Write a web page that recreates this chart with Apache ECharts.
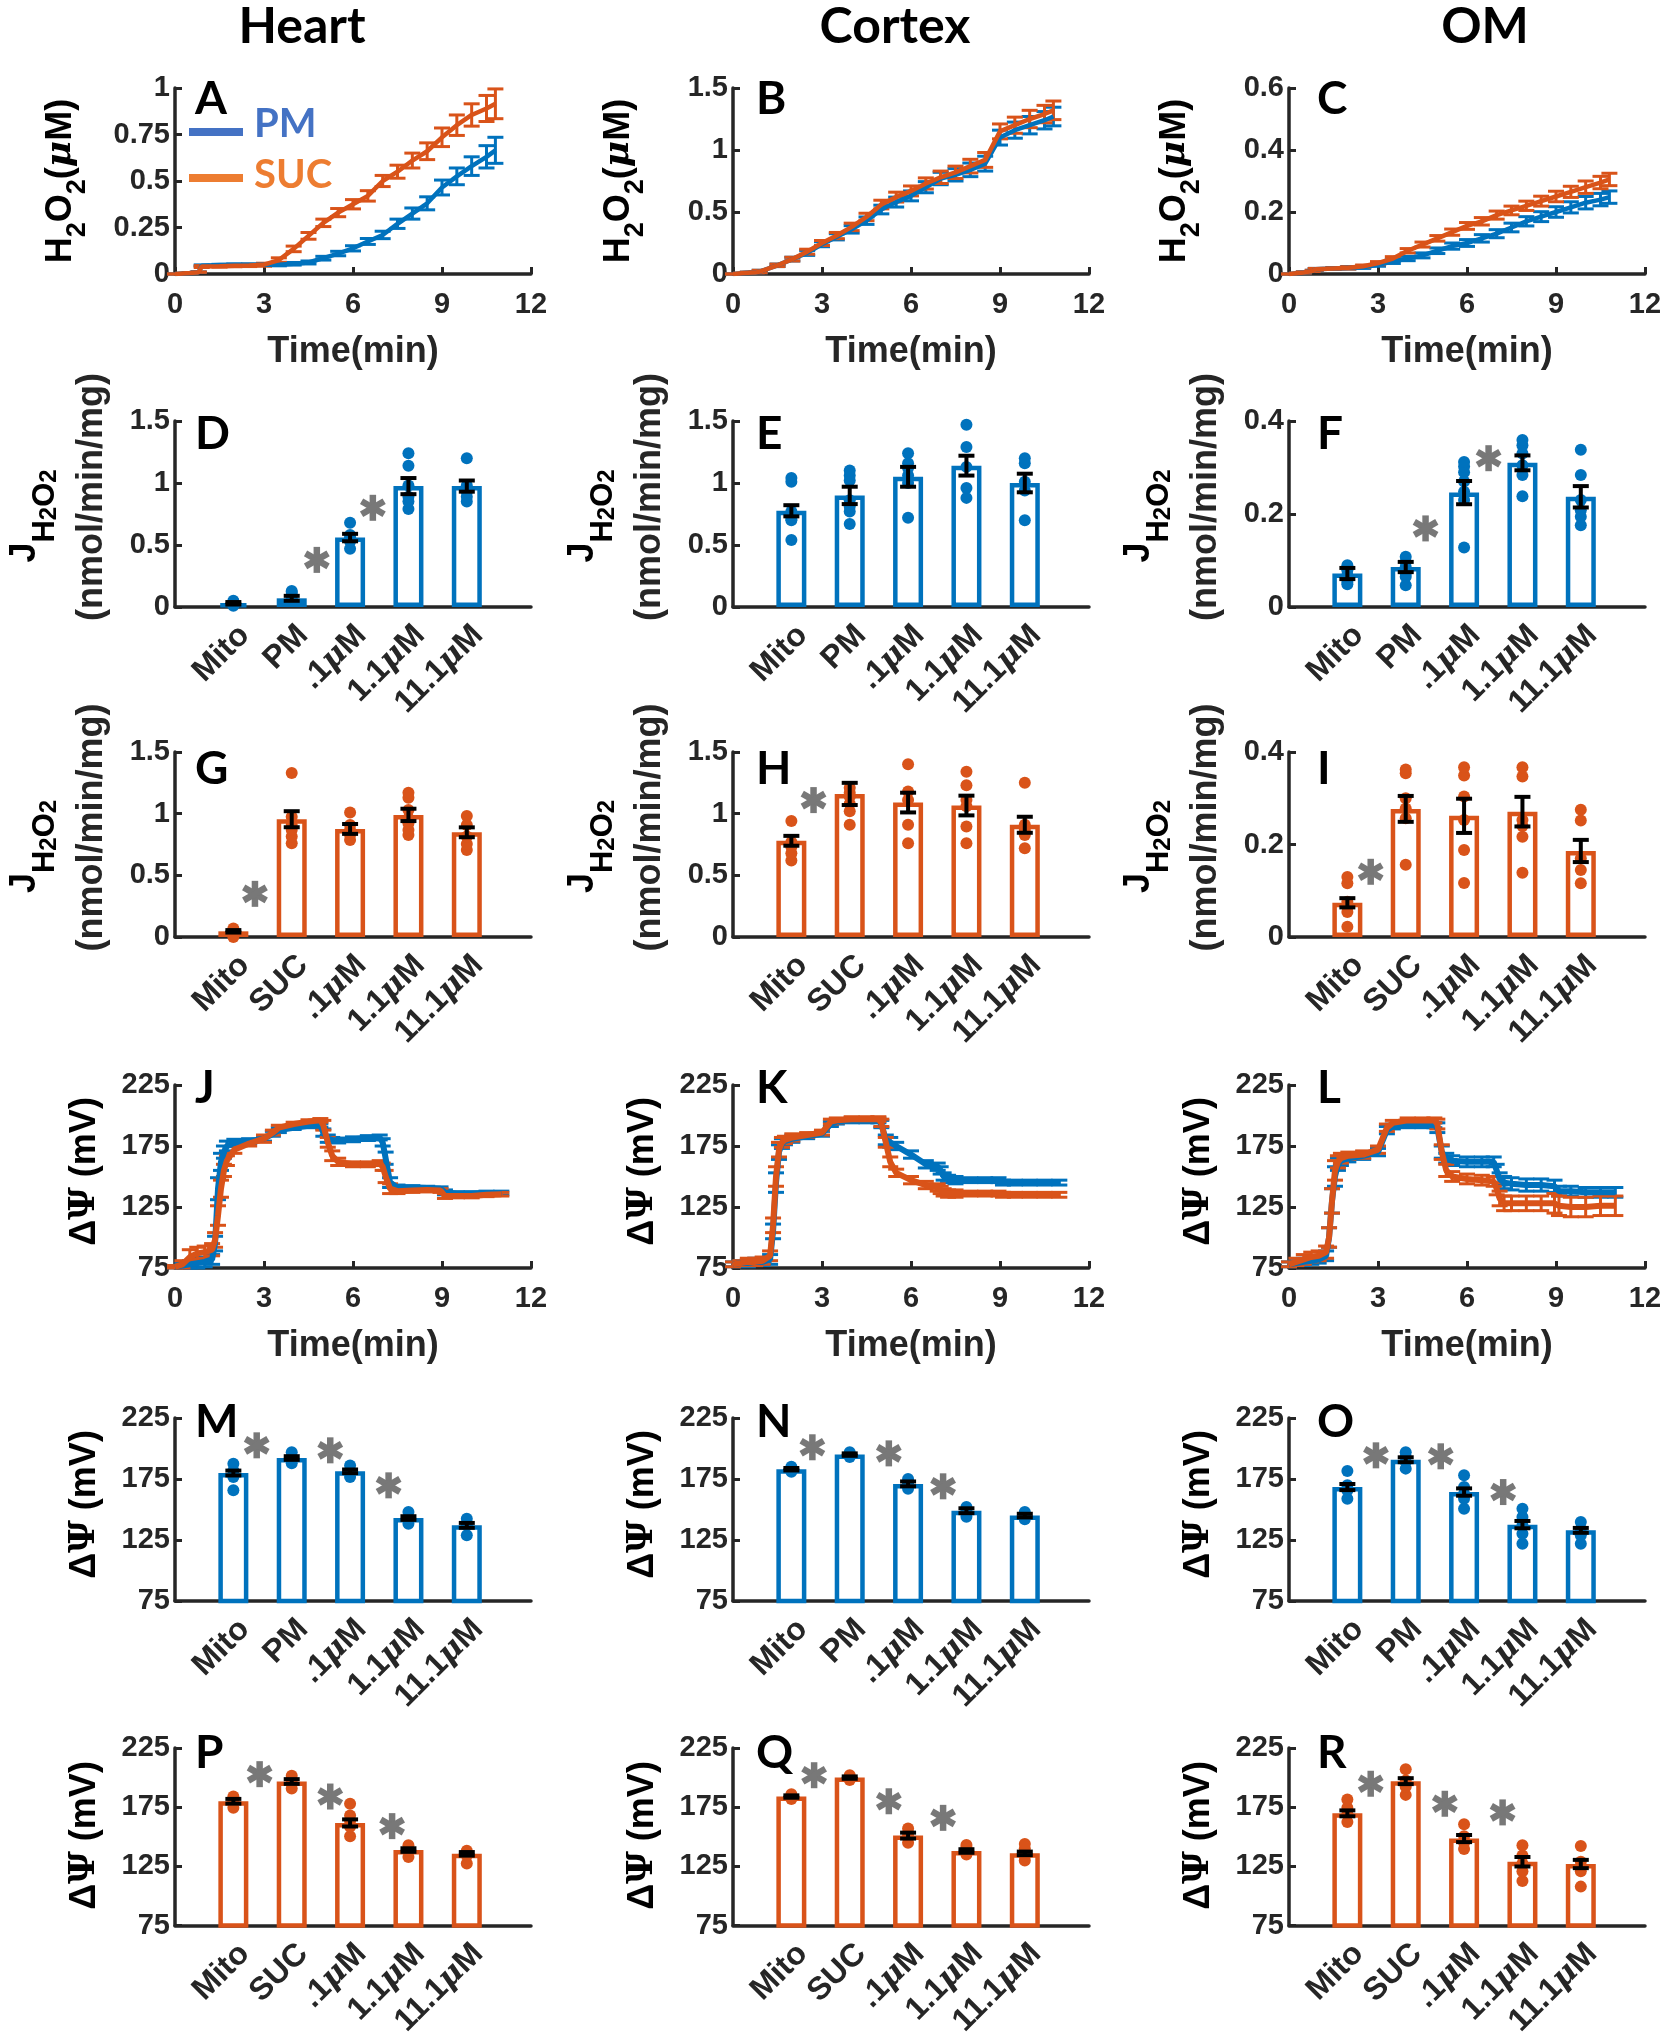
<!DOCTYPE html>
<html><head><meta charset="utf-8">
<script src="https://cdn.jsdelivr.net/npm/echarts@6/dist/echarts.min.js"></script>
<style>html,body{margin:0;padding:0;background:#fff}#c{width:1666px;height:2040px}</style>
</head><body><div id="c"></div>
<script>
// ---------------- DATA ----------------
const CATS_PM  = ['Mito','PM','.1μM','1.1μM','11.1μM'];
const CATS_SUC = ['Mito','SUC','.1μM','1.1μM','11.1μM'];

// H2O2 time courses (min)
const T_H2O2 = [0,0.5,0.8,0.9,1.5,2,2.5,3,3.5,4,4.5,5,5.5,6,6.5,7,7.5,8,8.5,9,9.5,10,10.5,10.8];
const A_pm      = [0,0.005,0.01,0.045,0.048,0.05,0.05,0.05,0.05,0.055,0.062,0.085,0.11,0.138,0.175,0.21,0.27,0.325,0.38,0.465,0.525,0.58,0.63,0.665];
const A_pm_err  = [0,0,0,0.004,0.004,0.004,0.004,0.005,0.006,0.007,0.008,0.01,0.012,0.014,0.016,0.02,0.025,0.03,0.035,0.04,0.045,0.05,0.06,0.07];
const A_suc     = [0,0.005,0.01,0.04,0.042,0.044,0.046,0.05,0.075,0.135,0.205,0.275,0.33,0.375,0.42,0.5,0.55,0.61,0.66,0.735,0.8,0.855,0.89,0.915];
const A_suc_err = [0,0,0,0.005,0.005,0.005,0.006,0.008,0.012,0.015,0.018,0.02,0.022,0.025,0.028,0.03,0.035,0.04,0.045,0.05,0.055,0.06,0.07,0.08];
const B_pm      = [0,0.01,0.015,0.02,0.07,0.12,0.17,0.24,0.3,0.36,0.43,0.52,0.58,0.63,0.7,0.77,0.8,0.84,0.89,1.1,1.16,1.2,1.24,1.27];
const B_suc     = [0,0.01,0.015,0.02,0.07,0.12,0.18,0.25,0.31,0.38,0.46,0.56,0.62,0.67,0.73,0.78,0.82,0.87,0.92,1.15,1.2,1.25,1.29,1.32];
const B_err     = [0,0.005,0.005,0.01,0.01,0.015,0.02,0.02,0.025,0.03,0.03,0.035,0.04,0.04,0.045,0.05,0.05,0.055,0.06,0.06,0.065,0.07,0.07,0.075];
const C_pm      = [0,0.005,0.01,0.015,0.018,0.02,0.022,0.03,0.04,0.05,0.06,0.075,0.09,0.1,0.115,0.13,0.15,0.17,0.185,0.2,0.215,0.23,0.24,0.248];
const C_suc     = [0,0.005,0.01,0.015,0.018,0.02,0.025,0.035,0.05,0.075,0.095,0.115,0.135,0.155,0.17,0.19,0.205,0.22,0.235,0.25,0.265,0.28,0.295,0.305];
const C_err     = [0,0.002,0.002,0.003,0.003,0.004,0.004,0.005,0.006,0.007,0.008,0.009,0.01,0.011,0.012,0.013,0.014,0.015,0.016,0.017,0.018,0.02,0.02,0.02];

// Membrane potential time courses (min)
const T_PSI = [0,0.25,0.5,0.75,1.0,1.25,1.35,1.45,1.55,1.65,1.75,2.0,2.5,3.0,3.3,3.5,4.0,4.5,4.9,5.0,5.15,5.3,5.5,6.0,6.5,6.9,7.0,7.1,7.25,7.5,8.0,8.5,8.95,9.1,9.5,10,10.5,11];
const J_pm      = [76,77,78,79,80,82,95,140,162,170,175,177.5,179,181,185,188,190,191.5,192,186,181,180,179.5,180.5,181.5,182,178,165,145,141,141,140.5,140,137,136,136,136.5,136.5];
const J_pm_err  = [1,2,3,4,4,4,6,9,7,5,4,3,2,2,2,2,1.5,1.5,1.5,3,3,2,2,2,2,2,3,5,4,2,1.5,1.5,1.5,2,1.5,1.5,1.5,1.5];
const J_suc     = [76,78,84,87,88,90,98,118,140,155,163,172,177,181,186,190,193,195,196,192,178,167,162,160,160,161,158,150,140,138,138.5,139,138.5,134,134,134,135,135.5];
const J_suc_err = [1,3,6,5,5,5,6,8,7,5,4,3,2,3,2,2,1.5,1.5,1.5,4,4,4,3,2,2,2,3,5,4,2,1.5,1.5,1.5,2,1.5,1.5,1.5,1.5];
const K_pm      = [78,79,79,80,80,82,105,145,170,177,179,181,183,185,193,195,196,196,196,193,180,178,175,168,160,158,155,150,148,147,147,147,147,145,145,145,145,145];
const K_suc     = [78,79,80,80,81,85,110,150,172,178,180,182,184,186,195,196,197,197,197,194,178,162,153,147,143,141,139,137,136,136,136,136,136,135,135,135,135,135];
const K_err     = [2,2,3,3,3,4,6,8,6,4,3,3,2,2,2,2,2,2,2,3,4,4,3,3,3,3,3,3,3,3,2,2,2,2,2,2,2,2];
const L_pm      = [78,79,80,81,82,85,100,130,150,160,163,165,167,170,188,191,192,192,192,190,170,165,163,162,162,162,155,148,145,144,143,143,142,138,138,137,137,137];
const L_pm_err  = [2,2,3,3,3,4,8,10,8,5,4,3,3,3,3,2,2,2,2,4,5,4,4,4,4,4,5,5,5,5,5,5,5,4,4,4,4,4];
const L_suc     = [78,80,82,84,85,88,100,130,155,162,165,167,168,172,190,194,196,196,196,193,170,155,150,148,147,146,140,132,128,128,128,128,128,126,125,125,126,126];
const L_suc_err = [2,3,4,4,4,5,8,10,8,5,4,3,3,3,3,2,2,2,2,4,6,5,4,4,4,4,5,6,6,6,6,6,8,8,8,8,8,8];

// Bar panels: mean, SEM, individual points, asterisk positions [x, y]
const D_mean = [0.03,0.07,0.56,0.975,0.975];
const D_sem  = [0.01,0.02,0.03,0.065,0.045];
const D_pts  = [[0.01,0.02,0.03,0.05],[0.05,0.07,0.1,0.12,0.13],[0.47,0.53,0.56,0.58,0.68],[0.79,0.85,0.89,0.98,1.14,1.24],[0.85,0.89,0.93,0.98,1.2]];
const D_star = [[2.43,0.38],[3.39,0.8]];
const E_mean = [0.776,0.90,1.05,1.14,1.00];
const E_sem  = [0.045,0.07,0.08,0.08,0.075];
const E_pts  = [[0.54,0.70,0.71,0.77,1.01,1.04],[0.67,0.77,0.81,0.86,1.02,1.06,1.10],[0.72,1.0,1.06,1.12,1.16,1.24],[0.88,0.96,1.13,1.29,1.47],[0.70,0.94,1.01,1.16,1.20]];
const E_star = [];
const F_mean = [0.072,0.086,0.246,0.31,0.237];
const F_sem  = [0.012,0.011,0.025,0.016,0.023];
const F_pts  = [[0.049,0.054,0.068,0.079,0.09],[0.047,0.065,0.072,0.086,0.097,0.108],[0.128,0.23,0.248,0.27,0.29,0.302,0.312],[0.238,0.284,0.305,0.33,0.348,0.359],[0.176,0.194,0.208,0.23,0.284,0.338]];
const F_star = [[2.34,0.169],[3.42,0.32]];
const G_mean = [0.046,0.955,0.876,0.99,0.849];
const G_sem  = [0.01,0.065,0.04,0.05,0.04];
const G_pts  = [[0,0.027,0.068],[0.76,0.814,0.868,0.909,0.976,1.33],[0.787,0.827,0.868,0.909,1.01],[0.827,0.868,0.922,0.963,1.03,1.13,1.17],[0.705,0.754,0.814,0.909,0.982]];
const G_star = [[1.37,0.35]];
const H_mean = [0.78,1.16,1.09,1.066,0.91];
const H_sem  = [0.04,0.09,0.08,0.08,0.065];
const H_pts  = [[0.62,0.68,0.73,0.77,0.94],[0.91,1.02,1.08,1.14,1.17,1.21],[0.76,0.91,1.11,1.18,1.40],[0.76,0.895,1.06,1.11,1.23,1.34],[0.72,0.827,0.868,0.91,1.25]];
const H_star = [[1.38,1.11]];
const I_mean = [0.074,0.277,0.262,0.271,0.186];
const I_sem  = [0.01,0.028,0.037,0.032,0.024];
const I_pts  = [[0.022,0.054,0.065,0.076,0.116,0.13],[0.156,0.257,0.278,0.30,0.354,0.362],[0.117,0.188,0.253,0.304,0.349,0.367],[0.139,0.217,0.24,0.253,0.347,0.367],[0.116,0.145,0.17,0.252,0.275]];
const I_star = [[1.4,0.141]];
const M_mean = [179.9,192.2,181.3,143,137];
const M_sem  = [2,1.5,1.5,1.5,2];
const M_pts  = [[165.7,176.6,182,187.6],[188,193,197],[176.6,181,186],[138.4,142.5,148],[128.8,137,142.5]];
const M_star = [[1.4,202.6],[2.66,198.5],[3.66,169.8]];
const N_mean = [183,195,171,149,145];
const N_sem  = [1,1,2,2,1.5];
const N_pts  = [[181,183,185],[193,195,197],[167,170,172,175],[144,147,149,152],[142,144,146,148]];
const N_star = [[1.36,201],[2.67,196],[3.6,169]];
const O_mean = [168.4,190.8,164.3,137.6,132.9];
const O_sem  = [2.5,2,3,3,2];
const O_pts  = [[158.9,165.7,169.8,181.6],[183.5,189,193,197],[150.7,158.9,163,168.4,178],[122,130.2,137,143.9,150.7],[122,128.8,134.3,139.8]];
const O_star = [[1.49,194.4],[2.6,193.6],[3.67,164.3]];
const P_mean = [180,196.7,161.7,138.8,135.6];
const P_sem  = [2,2,3,1.5,1.5];
const P_pts  = [[174.6,180,184],[190.8,196.2,201.6],[150.4,158.5,163.3,167.9,177.9],[132.9,138.3,142.9],[127.5,134.3,138.3]];
const P_star = [[1.45,202.9],[2.66,184],[3.72,159]];
const Q_mean = [184,200,151,138,136];
const Q_sem  = [1,1,2.5,1.5,1.5];
const Q_pts  = [[182,184,186],[198,200,202],[145,150,153,157],[135,138,141,143],[130,134,137,140,144]];
const Q_star = [[1.39,202],[2.67,180],[3.6,166]];
const R_mean = [169.8,197,148.5,128.9,127];
const R_sem  = [2.5,2.5,3,4,3.5];
const R_pts  = [[162.5,169.3,174.6,181.4],[185.4,192.2,197.5,207],[139.6,145,150.4,160.6],[112.7,120.8,127.5,134.3,142.9],[107.9,120.8,128.9,142.3]];
const R_star = [[1.4,194.8],[2.67,177.9],[3.66,170.6]];

const PSI_TICKS = [75,125,175,225];

// ---------------- STYLE / LAYOUT ----------------
const BLUE='#0072BD', ORANGE='#D95319', AX='#262626', STAR='#787878';
const colX=[175,733,1289], colW=356;
const rowTop=[88,421,752,1085,1418,1748], rowH=[186,186,185,183,183,185];
const TF = 'Liberation Sans';
const tickFont={fontFamily:TF, fontWeight:'bold', fontSize:29, color:AX};

const grids=[], xAxes=[], yAxes=[], series=[], graphics=[];

function errRender(color, cap, lw){
  return function(params, api){
    const x=api.value(0), m=api.value(1), e=api.value(2);
    const p1=api.coord([x,m+e]), p2=api.coord([x,m-e]);
    const st={stroke:color, lineWidth:lw};
    return {type:'group', children:[
      {type:'line', shape:{x1:p1[0],y1:p1[1],x2:p2[0],y2:p2[1]}, style:st},
      {type:'line', shape:{x1:p1[0]-cap,y1:p1[1],x2:p1[0]+cap,y2:p1[1]}, style:st},
      {type:'line', shape:{x1:p2[0]-cap,y1:p2[1],x2:p2[0]+cap,y2:p2[1]}, style:st}
    ]};
  };
}
function starRender(params, api){
  const c=api.coord([api.value(0), api.value(1)]);
  const r=13, ch=[];
  [90,30,-30].forEach(function(a){
    const dx=r*Math.cos(a*Math.PI/180), dy=r*Math.sin(a*Math.PI/180);
    ch.push({type:'line', shape:{x1:c[0]-dx,y1:c[1]-dy,x2:c[0]+dx,y2:c[1]+dy}, style:{stroke:STAR,lineWidth:6.5}});
  });
  return {type:'group', children:ch};
}
function axisCommon(){
  return {axisLine:{show:true,onZero:false,lineStyle:{color:AX,width:3.5}},
          axisTick:{show:true,inside:true,length:7,lineStyle:{color:AX,width:3}},
          splitLine:{show:false}};
}
function addGrid(row,col){
  grids.push({left:colX[col], top:rowTop[row], width:colW, height:rowH[row], containLabel:false});
  return grids.length-1;
}
function addY(gi,min,max,interval,custom){
  const a=Object.assign({type:'value', gridIndex:gi, min:min, max:max}, axisCommon());
  a.axisLabel=Object.assign({margin:5}, tickFont);
  if(custom){ a.axisLabel.customValues=custom; a.axisTick.customValues=custom; }
  else a.interval=interval;
  yAxes.push(a); return yAxes.length-1;
}
function linePanel(row,col,ymin,ymax,yint,ycustom,t,pm,pmErr,suc,sucErr,lw,cap){
  const gi=addGrid(row,col);
  const xa=Object.assign({type:'value',gridIndex:gi,min:0,max:12,interval:3}, axisCommon());
  xa.axisLabel=Object.assign({margin:16}, tickFont);
  xa.name='Time(min)'; xa.nameLocation='middle'; xa.nameGap=60;
  xa.nameTextStyle={fontFamily:TF,fontWeight:'bold',fontSize:36,color:AX};
  xAxes.push(xa); const xi=xAxes.length-1;
  const yi=addY(gi,ymin,ymax,yint,ycustom);
  [[pm,pmErr,BLUE],[suc,sucErr,ORANGE]].forEach(function(s){
    const v=s[0], e=s[1], c=s[2];
    series.push({type:'line', xAxisIndex:xi, yAxisIndex:yi, data:t.map(function(x,i){return [x,v[i]];}),
      showSymbol:false, symbol:'none', lineStyle:{color:c,width:lw}, itemStyle:{color:c}, animation:false, z:3});
    series.push({type:'custom', xAxisIndex:xi, yAxisIndex:yi, encode:{x:0,y:1},
      data:t.map(function(x,i){return [x,v[i],e[i]];}), renderItem:errRender(c,cap,3), animation:false, z:3});
  });
}
function fmtCat(s){ return s.replace('μ','{i|μ}'); }
function barPanel(row,col,ymin,ymax,yint,ycustom,color,cats,mean,sem,pts,stars){
  const gi=addGrid(row,col);
  const xa=Object.assign({type:'value',gridIndex:gi,min:0,max:6.1}, axisCommon());
  xa.axisTick.customValues=[1,2,3,4,5]; xa.axisTick.length=6;
  xa.axisLabel=Object.assign({margin:12, rotate:45, verticalAlign:'top', customValues:[1,2,3,4,5],
    formatter:function(v){ const s=cats[Math.round(v)-1]; return s?fmtCat(s):''; },
    rich:{i:{fontFamily:'DejaVu Serif',fontStyle:'italic',fontWeight:'bold',fontSize:31,color:AX}}}, tickFont, {fontSize:32});
  xAxes.push(xa); const xi=xAxes.length-1;
  const yi=addY(gi,ymin,ymax,yint,ycustom);
  series.push({type:'bar', xAxisIndex:xi, yAxisIndex:yi, barWidth:30, clip:true, animation:false,
    data:mean.map(function(m,i){return [i+1,m];}),
    itemStyle:{color:'#ffffff',borderColor:color,borderWidth:4.5}, z:2});
  const sp=[]; pts.forEach(function(arr,i){ arr.forEach(function(v){ sp.push([i+1,v]); }); });
  series.push({type:'scatter', xAxisIndex:xi, yAxisIndex:yi, data:sp, symbolSize:12, animation:false,
    itemStyle:{color:color,opacity:1}, z:3});
  series.push({type:'custom', xAxisIndex:xi, yAxisIndex:yi, encode:{x:0,y:1}, animation:false,
    data:mean.map(function(m,i){return [i+1,m,sem[i]];}), renderItem:errRender('#000000',8,4), z:4});
  if(stars.length){
    series.push({type:'custom', xAxisIndex:xi, yAxisIndex:yi, encode:{x:0,y:1}, animation:false,
      data:stars, renderItem:starRender, z:5});
  }
}

// ---------------- PANELS ----------------
linePanel(0,0,0,1,0.25,null,T_H2O2,A_pm,A_pm_err,A_suc,A_suc_err,4.5,8);
linePanel(0,1,0,1.5,0.5,null,T_H2O2,B_pm,B_err,B_suc,B_err,4.5,8);
linePanel(0,2,0,0.6,0.2,null,T_H2O2,C_pm,C_err,C_suc,C_err,4.5,8);
barPanel(1,0,0,1.5,0.5,null,BLUE,CATS_PM,D_mean,D_sem,D_pts,D_star);
barPanel(1,1,0,1.5,0.5,null,BLUE,CATS_PM,E_mean,E_sem,E_pts,E_star);
barPanel(1,2,0,0.4,0.2,null,BLUE,CATS_PM,F_mean,F_sem,F_pts,F_star);
barPanel(2,0,0,1.5,0.5,null,ORANGE,CATS_SUC,G_mean,G_sem,G_pts,G_star);
barPanel(2,1,0,1.5,0.5,null,ORANGE,CATS_SUC,H_mean,H_sem,H_pts,H_star);
barPanel(2,2,0,0.4,0.2,null,ORANGE,CATS_SUC,I_mean,I_sem,I_pts,I_star);
linePanel(3,0,75,225,50,PSI_TICKS,T_PSI,J_pm,J_pm_err,J_suc,J_suc_err,6,8);
linePanel(3,1,75,225,50,PSI_TICKS,T_PSI,K_pm,K_err,K_suc,K_err,6,8);
linePanel(3,2,75,225,50,PSI_TICKS,T_PSI,L_pm,L_pm_err,L_suc,L_suc_err,6,8);
barPanel(4,0,75,225,50,PSI_TICKS,BLUE,CATS_PM,M_mean,M_sem,M_pts,M_star);
barPanel(4,1,75,225,50,PSI_TICKS,BLUE,CATS_PM,N_mean,N_sem,N_pts,N_star);
barPanel(4,2,75,225,50,PSI_TICKS,BLUE,CATS_PM,O_mean,O_sem,O_pts,O_star);
barPanel(5,0,75,225,50,PSI_TICKS,ORANGE,CATS_SUC,P_mean,P_sem,P_pts,P_star);
barPanel(5,1,75,225,50,PSI_TICKS,ORANGE,CATS_SUC,Q_mean,Q_sem,Q_pts,Q_star);
barPanel(5,2,75,225,50,PSI_TICKS,ORANGE,CATS_SUC,R_mean,R_sem,R_pts,R_star);

// ---------------- TEXT ----------------
const LF='Lato';
[['Heart',302],['Cortex',895],['OM',1485]].forEach(function(t){
  graphics.push({type:'text', x:t[1], y:27, style:{text:t[0], font:'bold 50px '+LF, fill:'#000', align:'center', verticalAlign:'middle'}});
});
const letters='ABCDEFGHIJKLMNOPQR';
const letDy=[11,13,17,3,4,5];
const letDx=[20,23,28];
for(let r=0;r<6;r++) for(let c=0;c<3;c++){
  graphics.push({type:'text', x:colX[c]+letDx[c], y:rowTop[r]+letDy[r],
    style:{text:letters[r*3+c], font:'bold 46px '+LF, fill:'#000', align:'left', verticalAlign:'middle'}});
}
// legend in A
graphics.push({type:'line', shape:{x1:189,y1:132,x2:243,y2:132}, style:{stroke:'#4472C4',lineWidth:8}});
graphics.push({type:'line', shape:{x1:189,y1:178,x2:243,y2:178}, style:{stroke:'#ED7D31',lineWidth:8}});
graphics.push({type:'text', x:254, y:124, style:{text:'PM', font:'bold 40px '+LF, fill:'#4472C4', align:'left', verticalAlign:'middle'}});
graphics.push({type:'text', x:254, y:175, style:{text:'SUC', font:'bold 40px '+LF, fill:'#ED7D31', align:'left', verticalAlign:'middle'}});

// y-axis titles
const ROT=Math.PI/2;
const mainT={fontFamily:TF,fontWeight:'bold',fontSize:36,color:AX};
for(let c=0;c<3;c++){
  const x0=colX[c];
  const mid=function(r){return rowTop[r]+rowH[r]/2;};
  graphics.push({type:'text', x:x0-114, y:mid(0), rotation:ROT, style:{
    text:'{m|H}{s|2}{m|O}{s|2}{m|(}{i|μ}{m|M)}', align:'center', verticalAlign:'middle',
    rich:{m:Object.assign({lineHeight:60},mainT),
          s:{fontFamily:TF,fontWeight:'bold',fontSize:27,color:AX,lineHeight:16,verticalAlign:'bottom'},
          i:Object.assign({lineHeight:60},mainT,{fontFamily:'DejaVu Serif',fontStyle:'italic'})}}});
  [1,2].forEach(function(r){
    graphics.push({type:'text', x:x0-150, y:mid(r)+2, rotation:ROT, style:{
      text:'{j|J}{h|H}{k|2}{h|O}{k|2}', align:'center', verticalAlign:'middle',
      rich:{j:Object.assign({lineHeight:72},mainT),
            h:{fontFamily:TF,fontWeight:'bold',fontSize:31,color:AX,lineHeight:40,verticalAlign:'bottom'},
            k:{fontFamily:TF,fontWeight:'bold',fontSize:24,color:AX,lineHeight:16,verticalAlign:'bottom'}}}});
    graphics.push({type:'text', x:x0-83, y:mid(r)-17, rotation:ROT, style:{
      text:'(nmol/min/mg)', font:'bold 36px '+TF, fill:AX, align:'center', verticalAlign:'middle'}});
  });
  [3,4,5].forEach(function(r){
    graphics.push({type:'text', x:x0-90, y:mid(r)-5, rotation:ROT, style:{
      text:'{m|Δ}{p|Ψ}{m| (mV)}', align:'center', verticalAlign:'middle',
      rich:{m:mainT, p:Object.assign({},mainT,{fontFamily:'DejaVu Serif'})}}});
  });
}

const option={animation:false, backgroundColor:'#ffffff', grid:grids, xAxis:xAxes, yAxis:yAxes, series:series, graphic:{elements:graphics}};
const chart=echarts.init(document.getElementById('c'), null, {renderer:'canvas', width:1666, height:2040});
chart.setOption(option);
</script></body></html>
